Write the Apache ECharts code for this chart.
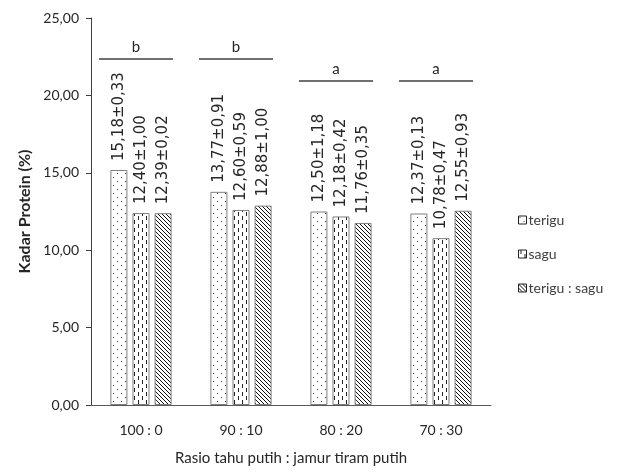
<!DOCTYPE html>
<html>
<head>
<meta charset="utf-8">
<script src="https://cdn.jsdelivr.net/npm/echarts@6/dist/echarts.min.js"></script>
<style>
  html, body { margin: 0; padding: 0; background: #fff; }
  #chart { width: 617px; height: 472px; }
</style>
</head>
<body>
<div id="chart"></div>
<script>
var categories = ['100 : 0', '90 : 10', '80 : 20', '70 : 30'];
var seriesNames = ['terigu', 'sagu', 'terigu : sagu'];
var terigu = [15.18, 13.77, 12.50, 12.37];
var teriguSd = [0.33, 0.91, 1.18, 0.13];
var sagu = [12.40, 12.60, 12.18, 10.78];
var saguSd = [1.00, 0.59, 0.42, 0.47];
var campuran = [12.39, 12.88, 11.76, 12.55];
var campuranSd = [0.02, 1.00, 0.35, 0.93];
var groupLetters = ['b', 'b', 'a', 'a'];
var letterLevel = [22.35, 22.35, 20.93, 20.93];
var yTicks = [0, 5, 10, 15, 20, 25];

function fmt(v) {
    return v.toFixed(2).replace('.', ',');
}

// pola isi batang
function makePattern(type) {
    var c = document.createElement('canvas');
    var ctx = c.getContext('2d');
    if (type == 'dot') {
        c.width = 8; c.height = 8;
        ctx.fillStyle = '#fff';
        ctx.fillRect(0, 0, 8, 8);
        ctx.fillStyle = '#333';
        ctx.fillRect(1, 1, 1, 1);
        ctx.fillRect(5, 5, 1, 1);
    } else if (type == 'dash') {
        c.width = 8; c.height = 8;
        ctx.fillStyle = '#fff';
        ctx.fillRect(0, 0, 8, 8);
        ctx.fillStyle = '#222';
        ctx.fillRect(2, 0, 1, 4);
        ctx.fillRect(6, 4, 1, 4);
    } else {
        c.width = 4; c.height = 4;
        ctx.fillStyle = '#fff';
        ctx.fillRect(0, 0, 4, 4);
        ctx.strokeStyle = '#111';
        ctx.lineWidth = 1;
        ctx.beginPath();
        ctx.moveTo(-1, -1); ctx.lineTo(5, 5);
        ctx.moveTo(-1, 3); ctx.lineTo(1, 5);
        ctx.moveTo(3, -1); ctx.lineTo(5, 1);
        ctx.stroke();
    }
    return { image: c, repeat: 'repeat' };
}

var patterns = [makePattern('dot'), makePattern('dash'), makePattern('hatch')];
var values = [terigu, sagu, campuran];
var sds = [teriguSd, saguSd, campuranSd];

var barSeries = values.map(function(vals, k) {
    return {
        name: seriesNames[k],
        type: 'bar',
        barWidth: 17,
        barGap: '30%',
        itemStyle: {
            color: patterns[k],
            borderColor: '#7f7f7f',
            borderWidth: 1
        },
        label: {
            show: true,
            position: 'top',
            rotate: 90,
            align: 'left',
            verticalAlign: 'middle',
            distance: 9,
            color: '#262626',
            fontFamily: 'DejaVu Sans',
            fontSize: 15,
            formatter: function(p) {
                return fmt(p.value) + '±' + fmt(sds[k][p.dataIndex]);
            }
        },
        data: vals
    };
});

var myChart = echarts.init(document.getElementById('chart'));
var option = {
    animation: false,
    backgroundColor: '#fff',
    grid: { left: 91, right: 126, top: 18, bottom: 67 },
    legend: {
        orient: 'vertical',
        left: 513,
        top: 208,
        itemWidth: 8,
        itemHeight: 8,
        itemGap: 20,
        icon: 'rect',
        textStyle: { color: '#404040', fontFamily: 'Lato', fontSize: 14, padding: [0, 0, 0, -3] },
        itemStyle: { borderColor: '#222', borderWidth: 1 },
        data: seriesNames
    },
    xAxis: [{
        type: 'category',
        data: categories,
        axisTick: { show: false },
        axisLine: { lineStyle: { color: '#595959', width: 1 } },
        axisLabel: { color: '#262626', fontFamily: 'Lato', fontSize: 14, margin: 18 },
        name: 'Rasio tahu putih : jamur tiram putih',
        nameLocation: 'middle',
        nameGap: 46,
        nameTextStyle: { color: '#262626', fontFamily: 'Lato', fontSize: 15 }
    }, {
        type: 'value',
        min: -0.5,
        max: 3.5,
        show: false
    }],
    yAxis: {
        type: 'value',
        min: 0,
        max: 25,
        interval: 5,
        splitLine: { show: false },
        axisLine: { show: true, onZero: false, lineStyle: { color: '#404040', width: 1 } },
        axisTick: { show: true, length: 5, lineStyle: { color: '#404040' } },
        axisLabel: {
            color: '#262626',
            fontFamily: 'Lato',
            fontSize: 14,
            margin: 12,
            formatter: function(v) { return yTicks.indexOf(v) >= 0 ? fmt(v) : ''; }
        },
        name: 'Kadar Protein (%)',
        nameLocation: 'middle',
        nameGap: 58,
        nameTextStyle: { color: '#262626', fontFamily: 'Lato', fontSize: 16, fontWeight: 'bold' }
    },
    series: barSeries.concat([{
        type: 'custom',
        xAxisIndex: 1,
        silent: true,
        renderItem: function(params, api) {
            var i = api.value(0);
            var a = api.coord([i - 0.42, api.value(1)]);
            var b = api.coord([i + 0.32, api.value(1)]);
            return {
                type: 'group',
                children: [{
                    type: 'line',
                    shape: { x1: a[0], y1: a[1], x2: b[0], y2: b[1] },
                    style: { stroke: '#404040', lineWidth: 1.3 }
                }, {
                    type: 'text',
                    style: {
                        text: groupLetters[params.dataIndex],
                        x: (a[0] + b[0]) / 2,
                        y: a[1] - 4,
                        align: 'center',
                        verticalAlign: 'bottom',
                        fill: '#262626',
                        font: '15px Lato'
                    }
                }]
            };
        },
        data: letterLevel.map(function(h, i) { return [i, h]; })
    }])
};
myChart.setOption(option);
</script>
</body>
</html>
